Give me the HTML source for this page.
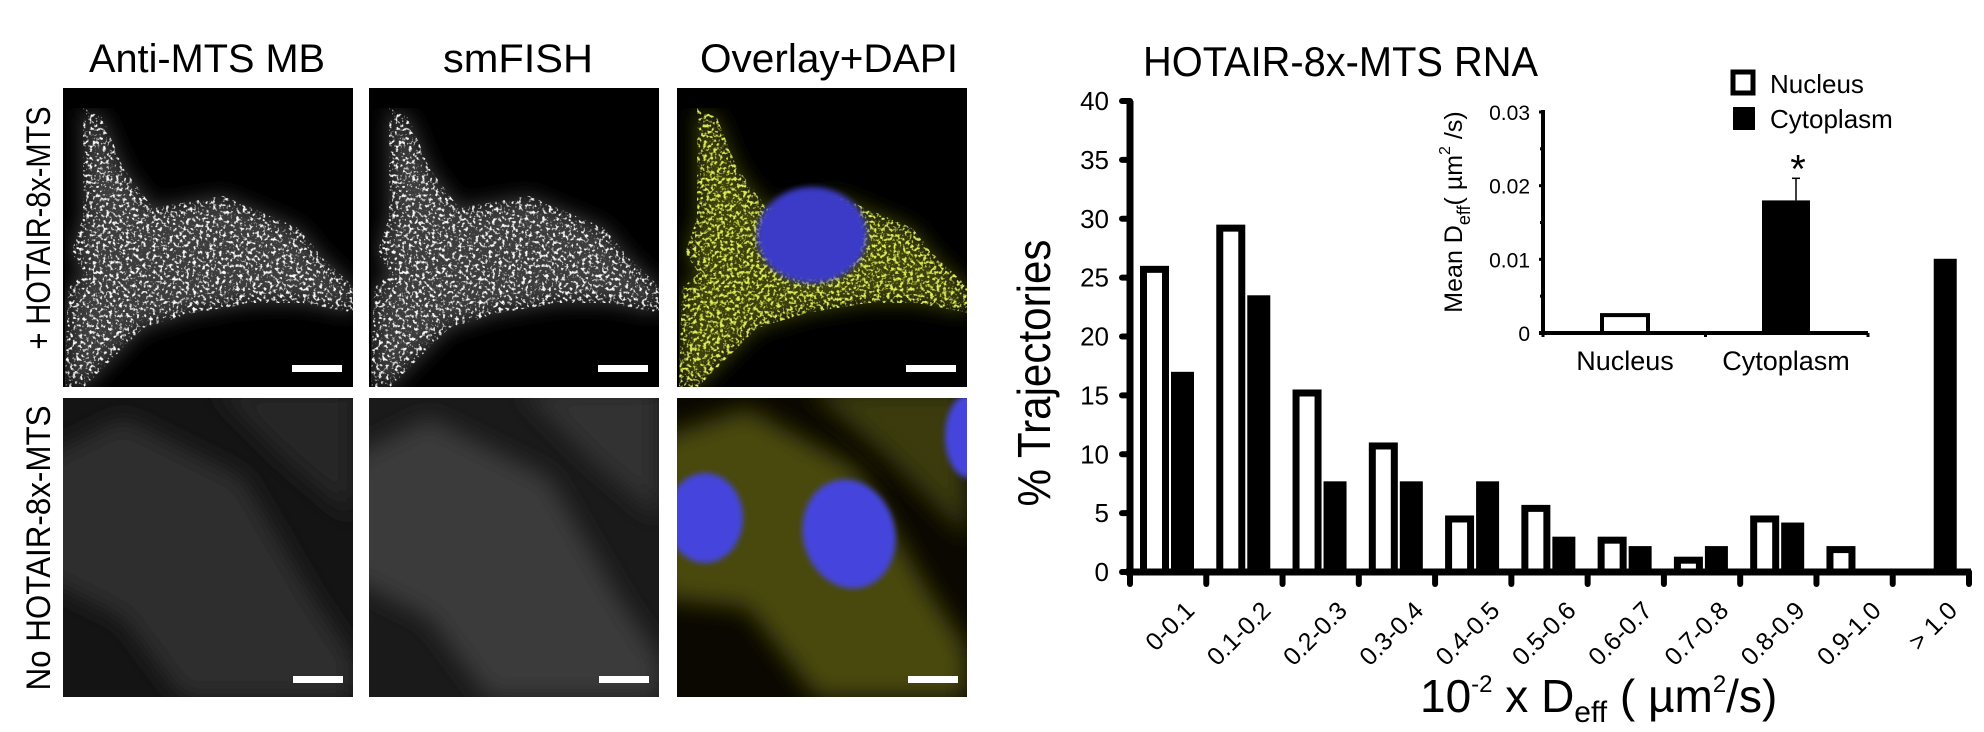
<!DOCTYPE html>
<html><head><meta charset="utf-8"><style>
html,body{margin:0;padding:0;background:#fff;}
svg{display:block;font-family:"Liberation Sans",sans-serif;}
</style></head><body>
<svg id="fig" width="1984" height="732" viewBox="0 0 1984 732" xmlns="http://www.w3.org/2000/svg">
<defs>
  <filter id="speck" x="0" y="0" width="100%" height="100%">
    <feTurbulence type="fractalNoise" baseFrequency="0.3" numOctaves="2" seed="3" result="n"/>
    <feColorMatrix in="n" type="matrix" values="0 0 0 0 1  0 0 0 0 1  0 0 0 0 1  5 0 0 0 -2.7" result="dots"/>
    <feComposite in="dots" in2="SourceGraphic" operator="in" result="d2"/>
    <feGaussianBlur in="SourceGraphic" stdDeviation="10" result="glow"/>
    <feMerge><feMergeNode in="glow"/><feMergeNode in="d2"/></feMerge>
  </filter>
  <filter id="speckc" x="0" y="0" width="100%" height="100%">
    <feTurbulence type="fractalNoise" baseFrequency="0.3" numOctaves="2" seed="5" result="n"/>
    <feColorMatrix in="n" type="matrix" values="0 0 0 0 0.75  0 0 0 0 0.85  0 0 0 0 0.1  5 0 0 0 -2.5" result="dots"/>
    <feComposite in="dots" in2="SourceGraphic" operator="in" result="d2"/>
    <feGaussianBlur in="SourceGraphic" stdDeviation="10" result="glow"/>
    <feMerge><feMergeNode in="glow"/><feMergeNode in="d2"/></feMerge>
  </filter>
  <filter id="soft"><feGaussianBlur stdDeviation="12"/></filter>
  <filter id="soft2"><feGaussianBlur stdDeviation="3"/></filter>
  <clipPath id="c1"><rect width="290" height="299"/></clipPath>
  <path id="cell" d="M20,20 L40,30 L60,80 L90,120 L160,108 L200,125 L235,140 L260,170 L292,200 L292,225 L240,215 L190,215 L130,225 L80,240 L50,270 L20,300 L2,300 L5,200 L22,185 L8,165 L20,130 Z"/>
</defs>

<text x="89" y="72" font-size="40" textLength="236" lengthAdjust="spacingAndGlyphs">Anti-MTS MB</text>
<text x="443" y="72" font-size="40" textLength="150" lengthAdjust="spacingAndGlyphs">smFISH</text>
<text x="700" y="72" font-size="40" textLength="258" lengthAdjust="spacingAndGlyphs">Overlay+DAPI</text>

<text transform="translate(50,228) rotate(-90)" text-anchor="middle" font-size="34" textLength="243" lengthAdjust="spacingAndGlyphs">+ HOTAIR-8x-MTS</text>
<text transform="translate(50,548) rotate(-90)" text-anchor="middle" font-size="34" textLength="285" lengthAdjust="spacingAndGlyphs">No HOTAIR-8x-MTS</text>

<g transform="translate(63,88)" clip-path="url(#c1)">
  <rect width="290" height="299" fill="#000"/>
  <use href="#cell" fill="#3c3c3c" filter="url(#speck)"/>
  <rect x="229" y="277" width="50" height="7" fill="#fff"/>
</g>
<g transform="translate(369,88)" clip-path="url(#c1)">
  <rect width="290" height="299" fill="#000"/>
  <use href="#cell" fill="#3c3c3c" filter="url(#speck)"/>
  <rect x="229" y="277" width="50" height="7" fill="#fff"/>
</g>
<g transform="translate(677,88)" clip-path="url(#c1)">
  <rect width="290" height="299" fill="#000"/>
  <use href="#cell" fill="#3c420a" filter="url(#speckc)"/>
  <ellipse cx="135" cy="147" rx="55" ry="48" fill="#3a3ac8" filter="url(#soft2)"/>
  <rect x="229" y="277" width="50" height="7" fill="#fff"/>
</g>

<g transform="translate(63,398)" clip-path="url(#c1)">
  <rect width="290" height="300" fill="#141414"/>
  <path d="M-20,60 L60,20 L180,80 L250,200 L290,260 L290,300 L120,300 L60,220 L-20,180 Z" fill="#2e2e2e" filter="url(#soft)"/>
  <path d="M150,-10 L290,-10 L290,120 L220,60 Z" fill="#262626" filter="url(#soft)"/>
  <rect x="230" y="278" width="50" height="7" fill="#fff"/>
</g>
<g transform="translate(369,398)" clip-path="url(#c1)">
  <rect width="290" height="300" fill="#1a1a1a"/>
  <path d="M-20,60 L60,20 L180,80 L250,200 L290,260 L290,300 L120,300 L60,220 L-20,180 Z" fill="#3a3a3a" filter="url(#soft)"/>
  <path d="M150,-10 L290,-10 L290,120 L220,60 Z" fill="#303030" filter="url(#soft)"/>
  <rect x="230" y="278" width="50" height="7" fill="#fff"/>
</g>
<g transform="translate(677,398)" clip-path="url(#c1)">
  <rect width="290" height="300" fill="#0a0800"/>
  <path d="M-20,40 L70,10 L180,70 L250,190 L290,250 L290,300 L140,300 L70,210 L-20,200 Z" fill="#4a4a10" filter="url(#soft)"/>
  <path d="M130,-10 L290,-10 L290,140 L210,60 Z" fill="#3a3a0c" filter="url(#soft)"/>
  <ellipse cx="28" cy="120" rx="38" ry="45" fill="#4444dd" filter="url(#soft2)"/>
  <ellipse cx="172" cy="136" rx="46" ry="55" transform="rotate(-15 172 136)" fill="#4444dd" filter="url(#soft2)"/>
  <ellipse cx="292" cy="38" rx="24" ry="42" fill="#4444dd" filter="url(#soft2)"/>
  <rect x="231" y="278" width="50" height="7" fill="#fff"/>
</g>

<g id="main"></g>
<text x="1143" y="76" font-size="42" textLength="395" lengthAdjust="spacingAndGlyphs">HOTAIR-8x-MTS RNA</text>
<text transform="translate(1050,373) rotate(-90)" text-anchor="middle" font-size="46" textLength="267" lengthAdjust="spacingAndGlyphs">% Trajectories</text>
<text x="1420" y="712" font-size="46">10<tspan font-size="24" dy="-20">-2</tspan><tspan dy="20"> x D</tspan><tspan font-size="30" dy="10">eff</tspan><tspan dy="-10"> ( µm</tspan><tspan font-size="24" dy="-20">2</tspan><tspan dy="20">/s)</tspan></text>

<g id="inset"></g>
<text transform="translate(1462,212) rotate(-90)" text-anchor="middle" font-size="25">Mean D<tspan font-size="18" dy="8">eff</tspan><tspan dy="-8">( µm</tspan><tspan font-size="16" dy="-12">2</tspan><tspan dy="12"> /s)</tspan></text>
<rect x="1733" y="72" width="20" height="21" fill="#fff" stroke="#000" stroke-width="5"/>
<text x="1770" y="93" font-size="26">Nucleus</text>
<rect x="1733" y="107" width="22" height="23" fill="#000"/>
<text x="1770" y="128" font-size="26">Cytoplasm</text>
</svg>
<script>
const categories = ["0-0.1","0.1-0.2","0.2-0.3","0.3-0.4","0.4-0.5","0.5-0.6","0.6-0.7","0.7-0.8","0.8-0.9","0.9-1.0","> 1.0"];
const nucleusValues = [26, 29.5, 15.5, 11, 4.8, 5.7, 3, 1.3, 4.8, 2.2, 0];
const cytoplasmValues = [17, 23.5, 7.7, 7.7, 7.7, 3, 2.2, 2.2, 4.2, 0, 26.6];
const yTicks = [0,5,10,15,20,25,30,35,40];
const insetCategories = ["Nucleus","Cytoplasm"];
const insetMeans = [0.0027, 0.018];
const insetErrors = [0, 0.003];
const insetTicks = [0, 0.01, 0.02, 0.03];
const insetMinorTicks = [0.005, 0.015, 0.025];

const NS = "http://www.w3.org/2000/svg";
function mk(parent, tag, attrs, txt){
  const e = document.createElementNS(NS, tag);
  for (const k in attrs) e.setAttribute(k, attrs[k]);
  if (txt !== undefined) e.textContent = txt;
  parent.appendChild(e);
  return e;
}
const X0 = 1130, X1 = 1969, Y0 = 572, Y40 = 101;
const bandW = (X1 - X0) / categories.length;
const yS = v => Y0 - (v / 40) * (Y0 - Y40);
const xBand = i => X0 + i * bandW;
const main = document.getElementById("main");

categories.forEach((c, i) => {
  const cx = xBand(i) + 40;
  const nv = nucleusValues[i];
  if (nv > 0) {
    const top = yS(nv);
    const r = mk(main, "rect", {x: cx - 26.5, y: top + 3.5, width: 22, height: Math.max(0, Y0 - top - 3.5), fill: "#fff", stroke: "#000", "stroke-width": 7});
    
    
  }
  const cv = cytoplasmValues[i];
  if (cv > 0) {
    const top = yS(cv);
    const r = mk(main, "rect", {x: cx + 1, y: top, width: 23, height: Y0 - top, fill: "#000"});
    
    
  }
  const lx = xBand(i) + 66, ly = 612;
  const t = mk(main, "text", {transform: `translate(${lx},${ly}) rotate(-45)`, "text-anchor": "end", "font-size": 25}, c);
  
  
});
for (let i = 0; i <= categories.length; i++) {
  const tk = mk(main, "line", {x1: xBand(i), x2: xBand(i), y1: Y0, y2: Y0 + 12, stroke: "#000", "stroke-width": 6, "stroke-linecap": "round"});
  
  
}
yTicks.forEach(v => {
  const tk = mk(main, "line", {x1: X0 - 8, x2: X0, y1: yS(v), y2: yS(v), stroke: "#000", "stroke-width": 6, "stroke-linecap": "round"});
  
  
  const t = mk(main, "text", {x: 1109, y: yS(v) + 9, "text-anchor": "end", "font-size": 26}, String(v));
  
  
});
const ya = mk(main, "line", {x1: X0, x2: X0, y1: Y40, y2: Y0 + 3, stroke: "#000", "stroke-width": 7});


const xa = mk(main, "line", {x1: X0 - 4, x2: X1 + 2, y1: Y0, y2: Y0, stroke: "#000", "stroke-width": 7});



const IX0 = 1543, IX1 = 1868, IY0 = 333, IYT = 112;
const iy = v => IY0 - (v / 0.03) * (IY0 - IYT);
const iBand = (IX1 - IX0) / insetCategories.length;
const inset = document.getElementById("inset");
insetCategories.forEach((c, i) => {
  const cx = IX0 + iBand * i + (i === 0 ? 82 : 243 - iBand);
  const top = iy(insetMeans[i]);
  let r;
  if (i === 0) {
    r = mk(inset, "rect", {x: cx - 23, y: top + 2, width: 46, height: IY0 - top - 2, fill: "#fff", stroke: "#000", "stroke-width": 4});
  } else {
    r = mk(inset, "rect", {x: cx - 24, y: top, width: 48, height: IY0 - top, fill: "#000"});
  }
  
  
  if (insetErrors[i] > 0) {
    const eb = mk(inset, "line", {x1: cx + 10, x2: cx + 10, y1: top, y2: iy(insetMeans[i] + insetErrors[i]), stroke: "#000", "stroke-width": 1.5});
    
    
    const cap = mk(inset, "line", {x1: cx + 6, x2: cx + 14, y1: iy(insetMeans[i] + insetErrors[i]), y2: iy(insetMeans[i] + insetErrors[i]), stroke: "#000", "stroke-width": 1.5});
    
    
    const st = mk(inset, "text", {x: cx + 12, y: iy(insetMeans[i] + insetErrors[i]) + 4, "text-anchor": "middle", "font-size": 40}, "*");
    
    
  }
  const t = mk(inset, "text", {x: cx, y: 370, "text-anchor": "middle", "font-size": 27}, c);
  
  
});
insetTicks.forEach(v => {
  const tk = mk(inset, "line", {x1: IX0 - 4, x2: IX0, y1: iy(v), y2: iy(v), stroke: "#000", "stroke-width": 3});
  
  
  const t = mk(inset, "text", {x: 1530, y: iy(v) + 8, "text-anchor": "end", "font-size": 21}, v === 0 ? "0" : v.toFixed(2));
  
  
});
insetMinorTicks.forEach(v => {
  const tk = mk(inset, "line", {x1: IX0 - 3, x2: IX0, y1: iy(v), y2: iy(v), stroke: "#000", "stroke-width": 3});
  
  
});
for (let i = 0; i <= insetCategories.length; i++) {
  const x = IX0 + iBand * i;
  const tk = mk(inset, "line", {x1: x, x2: x, y1: IY0, y2: IY0 + 4, stroke: "#000", "stroke-width": 3});
  
  
}
const iya = mk(inset, "line", {x1: IX0, x2: IX0, y1: IYT - 2, y2: IY0 + 2, stroke: "#000", "stroke-width": 4});


const ixa = mk(inset, "line", {x1: IX0 - 4, x2: IX1, y1: IY0, y2: IY0, stroke: "#000", "stroke-width": 4});


</script>
</body></html>
